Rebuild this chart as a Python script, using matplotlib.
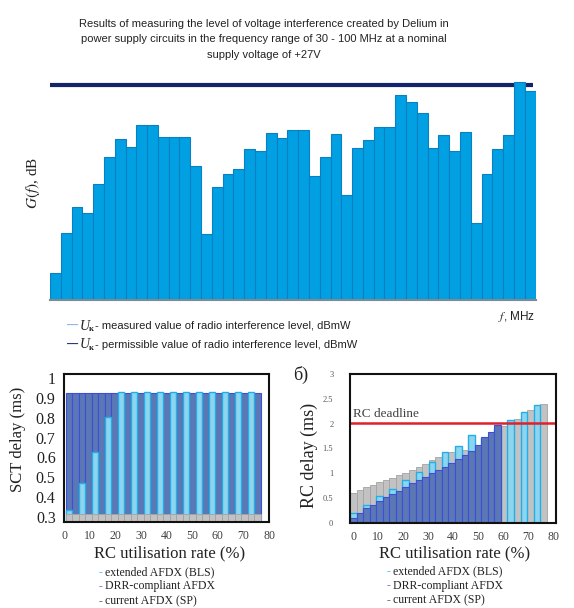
import matplotlib
matplotlib.use("Agg")
import matplotlib.pyplot as plt
import numpy as np

plt.rcParams['font.family'] = ['Liberation Sans', 'DejaVu Sans']
plt.rcParams['font.serif'] = ['Liberation Serif', 'DejaVu Serif']
plt.rcParams['mathtext.fontset'] = 'stix'

# Top chart: measured interference level per frequency step (30 - 100 MHz)
level_db = [27, 67, 93, 87, 116, 143, 161, 153, 175, 175,
            163, 163, 163, 134, 66, 113, 126, 131, 151, 149,
            167, 162, 170, 170, 124, 143, 166, 105, 152, 160,
            173, 173, 205, 198, 187, 152, 165, 149, 168, 77,
            126, 151, 165, 218, 209]
limit_db = 215

# Bottom charts: RC utilisation rate steps
rates = [0, 2.5, 5, 7.5, 10, 12.5, 15, 17.5, 20, 22.5,
         25, 27.5, 30, 32.5, 35, 37.5, 40, 42.5, 45, 47.5,
         50, 52.5, 55, 57.5, 60, 62.5, 65, 67.5, 70, 72.5]

# a) SCT delay (ms)
sct_sp = [0.314] * 30
sct_drr = [0.927] * 30
sct_bls = [0.334, 0.472, 0.629, 0.806, 0.932, 0.932, 0.932, 0.932,
           0.932, 0.932, 0.932, 0.932, 0.932, 0.932, 0.932]

# б) RC delay (ms)
rc_sp = [0.6, 0.66, 0.72, 0.77, 0.82, 0.86, 0.91, 0.96, 1.01, 1.06,
         1.13, 1.19, 1.26, 1.33, 1.38, 1.43, 1.47, 1.46, 1.44, 1.5,
         1.6, 1.75, 1.88, 1.96, 2.03, 2.1, 2.17, 2.27, 2.33, 2.39]
rc_drr = [0.09, 0.19, 0.29, 0.36, 0.44, 0.51, 0.58, 0.64, 0.73, 0.8,
          0.86, 0.93, 1.0, 1.06, 1.13, 1.2, 1.29, 1.37, 1.45, 1.57,
          1.72, 1.82, 1.97]
rc_bls = [0.19, 0.36, 0.54, 0.68, 0.86, 1.03, 1.22, 1.42, 1.55, 1.77,
          1.7, 1.9, 2.07, 2.23, 2.37]
rc_deadline = 2.01

x_ticks = [0, 10, 20, 30, 40, 50, 60, 70, 80]
sct_ticks = [0.3, 0.4, 0.5, 0.6, 0.7, 0.8, 0.9, 1.0]
sct_labels = ['0.3', '0.4', '0.5', '0.6', '0.7', '0.8', '0.9', '1']
rc_ticks = [0, 0.5, 1, 1.5, 2, 2.5, 3]
rc_labels = ['0', '0.5', '1', '1.5', '2', '2.5', '3']

W, H = 574, 608
DARK = '#5B78B5'
DARK_E = '#3B4FD8'
LIGHT = '#8DD5EE'
LIGHT_E = '#22AEE6'
GREY = '#C2C2C2'
GREY_E = '#A3A3A3'


def rect(l, t, r, b):
    return [l / W, 1 - b / H, (r - l) / W, (b - t) / H]


def fx(x):
    return x / W


def fy(y):
    return 1 - y / H


fig = plt.figure(figsize=(W / 100, H / 100), dpi=100)

# ---------------- top chart ----------------
title_lines = ["Results of measuring the level of voltage interference created by Delium in",
               "power supply circuits in the frequency range of 30 - 100 MHz at a nominal",
               "supply voltage of +27V"]
for i, line in enumerate(title_lines):
    fig.text(fx(264), fy(24 + 15.5 * i), line, ha='center', va='center', fontsize=8,
             color='#222222')

ax0 = fig.add_axes(rect(50, 78, 535.5, 300))
idx = np.arange(len(level_db))
ax0.bar(idx, level_db, width=1.0, color='#00A0E3', edgecolor='#0B7FBF', linewidth=0.8, zorder=2)
ax0.plot([-0.5, 44.3], [limit_db, limit_db], color='#13246B', lw=3, zorder=1, solid_capstyle='butt')
ax0.set_xlim(-0.5, 44.5)
ax0.set_ylim(0, 222)
for s in ['top', 'right', 'left']:
    ax0.spines[s].set_visible(False)
ax0.spines['bottom'].set_color('#7A8A99')
ax0.spines['bottom'].set_linewidth(1.5)
ax0.set_xticks([])
ax0.set_yticks([])

fig.text(fx(33), fy(183), r"$G(f)$, dB", rotation=90, ha='center', va='center',
         fontsize=11, family='serif', color='#222222')
fig.text(fx(498), fy(316), r"$f$, MHz", ha='left', va='center', fontsize=8.5, color='#222222')

for yy, col, txt in [(326, '#8DB4E2', "- measured value of radio interference level, dBmW"),
                     (345, '#1F2F72', "- permissible value of radio interference level, dBmW")]:
    fig.text(fx(67), fy(yy), "\u2014", color=col, fontsize=8, ha='left', va='center', fontweight='bold')
    fig.text(fx(80), fy(yy), "U", family='serif', style='italic', fontsize=10, ha='left', va='center',
             color='#222222')
    fig.text(fx(89), fy(yy + 3), "\u043a", family='serif', fontsize=6, fontweight='bold', ha='left',
             va='center', color='#222222')
    fig.text(fx(95), fy(yy), txt, fontsize=8, ha='left', va='center', color='#222222')

# ---------------- bottom left: SCT delay ----------------
ax1 = fig.add_axes(rect(64, 374, 269, 522))
ax1.bar(rates, sct_drr, width=2.5, align='edge', color=DARK, edgecolor=DARK_E, linewidth=0.8, zorder=2)
ax1.bar(rates[::2], sct_bls, width=2.5, align='edge', color=LIGHT, edgecolor=LIGHT_E, linewidth=1.0, zorder=3)
ax1.bar(rates, sct_sp, width=2.5, align='edge', color=GREY, edgecolor=GREY_E, linewidth=0.6, zorder=4)
ax1.set_xlim(-0.65, 78.2)
ax1.set_ylim(0.273, 1.022)
ax1.set_xticks(np.linspace(-0.65, 78.2, len(x_ticks)))
ax1.set_xticklabels([str(t) for t in x_ticks], family='serif', fontsize=8.5, color='#404040')
ax1.set_yticks(sct_ticks)
ax1.set_yticklabels(sct_labels, family='serif', fontsize=11.5, color='#222222')
ax1.tick_params(length=0, pad=6)
for s in ax1.spines.values():
    s.set_color('#111111')
    s.set_linewidth(1.5)
    s.set_zorder(6)
fig.text(fx(18), fy(439), "SCT delay (ms)", rotation=90, ha='center', va='center',
         family='serif', fontsize=12, color='#222222')
fig.text(fx(170), fy(553), "RC utilisation rate (%)", ha='center', va='center',
         family='serif', fontsize=12, color='#222222')

# ---------------- bottom right: RC delay ----------------
ax2 = fig.add_axes(rect(350, 374, 555.7, 522.7))
ax2.bar(rates, rc_sp, width=2.5, align='edge', color=GREY, edgecolor=GREY_E, linewidth=0.6, zorder=2)
ax2.bar(rates[::2], rc_bls, width=2.5, align='edge', color=LIGHT, edgecolor=LIGHT_E, linewidth=1.0, zorder=3)
ax2.bar(rates[:len(rc_drr)], rc_drr, width=2.5, align='edge', color=DARK, edgecolor=DARK_E,
        linewidth=0.8, zorder=4)
ax2.axhline(rc_deadline, color='#E0202A', lw=1.8, zorder=5)
ax2.text(1.3, 2.2, "RC deadline", family='serif', fontsize=9.5, color='#404040', va='center', zorder=6)
ax2.set_xlim(0, 78.4)
ax2.set_ylim(0, 3)
ax2.set_xticks(np.linspace(1.26, 77.4, len(x_ticks)))
ax2.set_xticklabels([str(t) for t in x_ticks], family='serif', fontsize=8.5, color='#404040')
ax2.set_yticks(rc_ticks)
ax2.set_yticklabels(rc_labels, family='serif', fontsize=6, color='#555555')
ax2.tick_params(axis='x', length=0, pad=6)
ax2.tick_params(axis='y', length=0, pad=12)
for s in ax2.spines.values():
    s.set_color('#111111')
    s.set_linewidth(1.5)
    s.set_zorder(6)
fig.text(fx(301), fy(375), "\u0431)", ha='center', va='center', family='serif', fontsize=13,
         color='#222222')
fig.text(fx(309), fy(455), "RC delay (ms)", rotation=90, ha='center', va='center',
         family='serif', fontsize=13, color='#222222')
fig.text(fx(455), fy(553), "RC utilisation rate (%)", ha='center', va='center',
         family='serif', fontsize=12, color='#222222')

# legends under the bottom charts
legend_items = [("extended AFDX (BLS)", '#33B5E5'),
                ("DRR-compliant AFDX", '#3A6FD0'),
                ("current AFDX (SP)", '#555555')]
for x0, y0 in [(99, 572), (387, 571)]:
    for i, (name, col) in enumerate(legend_items):
        yy = y0 + 14.5 * i
        fig.text(fx(x0), fy(yy), "-", color=col, family='serif', fontsize=8.5, ha='left',
                 va='center', fontweight='bold')
        fig.text(fx(x0 + 6), fy(yy), name, color='#222222', family='serif', fontsize=8.5,
                 ha='left', va='center')

fig.savefig("out.png", dpi=100)
